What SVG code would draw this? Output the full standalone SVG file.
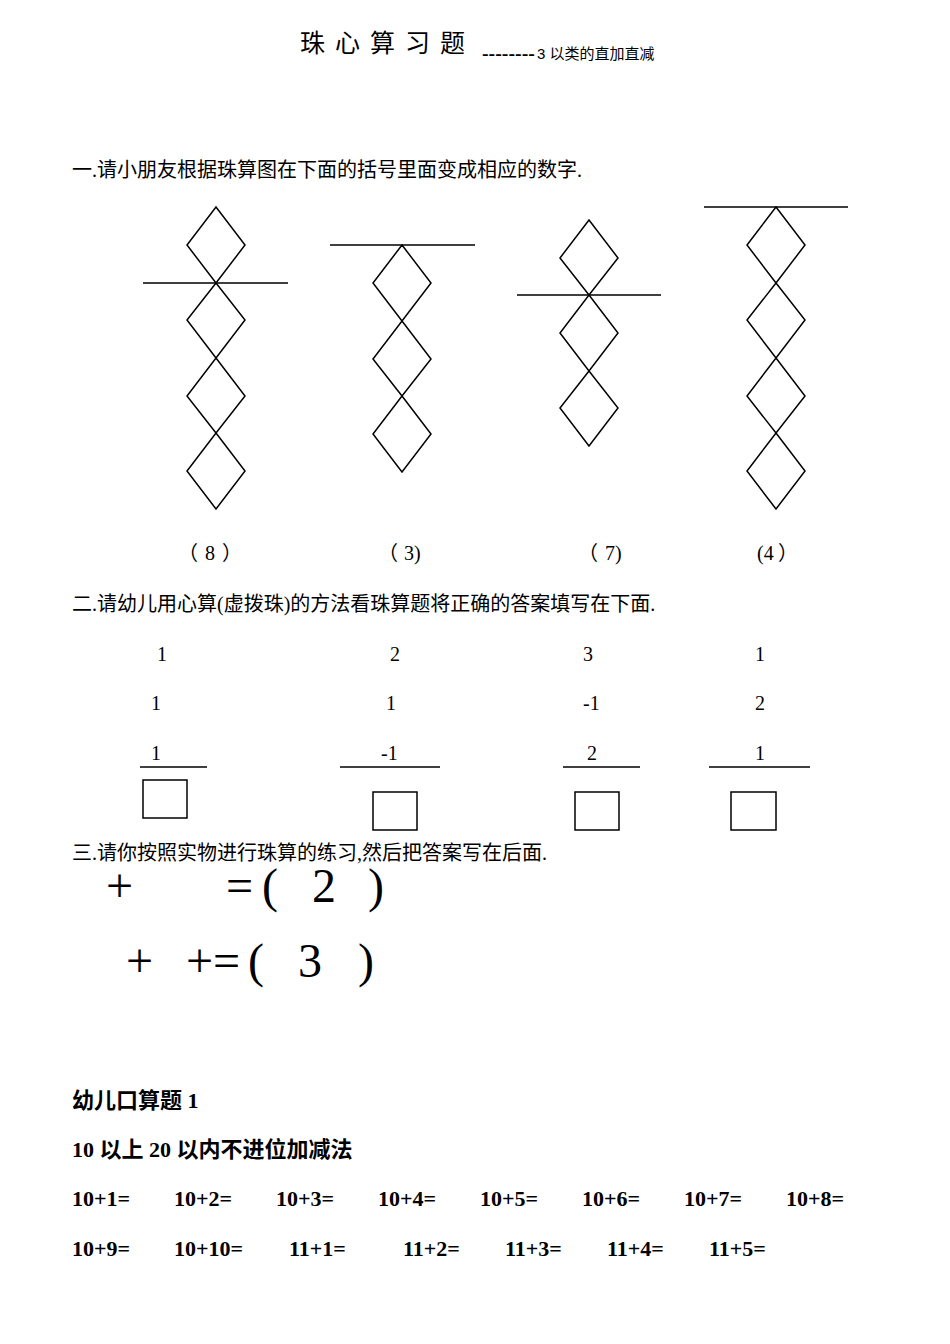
<svg xmlns="http://www.w3.org/2000/svg" width="950" height="1344" viewBox="0 0 950 1344">
<style>
.t{font-family:"Liberation Serif","Noto Sans CJK SC",serif;font-size:20px;fill:#000}
.b{font-family:"Liberation Serif","Noto Sans CJK SC",serif;font-size:22px;fill:#000;font-weight:bold}
.s{font-family:"Liberation Sans","Noto Sans CJK SC",sans-serif;fill:#000}
.big{font-family:"Liberation Serif","Noto Sans CJK SC",serif;font-size:48px;fill:#000}
.d{fill:none;stroke:#000;stroke-width:1.5}
.l{stroke:#000;stroke-width:1.5}
</style>
<rect width="950" height="1344" fill="#fff"/>
<g id="title">
<text x="300" y="52" class="s" font-size="25" letter-spacing="10">珠心算习题</text>
<text x="482" y="59" class="s" font-size="15" font-weight="bold" textLength="53" lengthAdjust="spacingAndGlyphs">--------</text>
<text x="537" y="59" class="s" font-size="15">3 以类的直加直减</text>
</g>
<text x="72" y="177" class="t">一.请小朋友根据珠算图在下面的括号里面变成相应的数字.</text>
<g id="abacus1">
<line x1="143" y1="283" x2="288" y2="283" class="l" stroke-width="2"/>
<path class="d" d="M216 207 L245 245 L216 283 L187 245 Z M216 283 L245 320 L216 358 L187 320 Z M216 358 L245 396 L216 433 L187 396 Z M216 433 L245 471 L216 509 L187 471 Z"/>
</g>
<g id="abacus2">
<line x1="330" y1="245" x2="475" y2="245" class="l"/>
<path class="d" d="M402 245 L431 283 L402 321 L373 283 Z M402 321 L431 359 L402 396 L373 359 Z M402 396 L431 434 L402 472 L373 434 Z"/>
</g>
<g id="abacus3">
<line x1="517" y1="295" x2="661" y2="295" class="l"/>
<path class="d" d="M589 220 L618 258 L589 295 L560 258 Z M589 295 L618 333 L589 371 L560 333 Z M589 371 L618 408 L589 446 L560 408 Z"/>
</g>
<g id="abacus4">
<line x1="704" y1="207" x2="848" y2="207" class="l"/>
<path class="d" d="M776 207 L805 245 L776 283 L747 245 Z M776 283 L805 320 L776 358 L747 320 Z M776 358 L805 396 L776 433 L747 396 Z M776 433 L805 471 L776 509 L747 471 Z"/>
</g>
<g id="answers1">
<text x="178" y="560" class="t">（</text><text x="205" y="560" class="t">8</text><text x="222" y="560" class="t">）</text>
<text x="378" y="560" class="t">（</text><text x="404" y="560" class="t">3)</text>
<text x="578" y="560" class="t">（</text><text x="605" y="560" class="t">7)</text>
<text x="757" y="560" class="t">(4</text><text x="778" y="560" class="t">）</text>
</g>
<text x="72" y="611" class="t">二.请幼儿用心算(虚拨珠)的方法看珠算题将正确的答案填写在下面.</text>
<g id="q1"><text x="157" y="661" class="t">1</text><text x="151" y="710" class="t">1</text><text x="151" y="760" class="t">1</text>
<line x1="140" y1="767" x2="207" y2="767" class="l"/><rect x="143" y="780" width="44" height="38" class="d"/></g>
<g id="q2"><text x="390" y="661" class="t">2</text><text x="386" y="710" class="t">1</text><text x="381" y="760" class="t">-1</text>
<line x1="340" y1="767" x2="440" y2="767" class="l"/><rect x="373" y="792" width="44" height="38" class="d"/></g>
<g id="q3"><text x="583" y="661" class="t">3</text><text x="583" y="710" class="t">-1</text><text x="587" y="760" class="t">2</text>
<line x1="563" y1="767" x2="640" y2="767" class="l"/><rect x="575" y="792" width="44" height="38" class="d"/></g>
<g id="q4"><text x="755" y="661" class="t">1</text><text x="755" y="710" class="t">2</text><text x="755" y="760" class="t">1</text>
<line x1="709" y1="767" x2="810" y2="767" class="l"/><rect x="731" y="792" width="45" height="38" class="d"/></g>
<text x="72" y="860" class="t">三.请你按照实物进行珠算的练习,然后把答案写在后面.</text>
<g id="eq">
<text x="106" y="902" class="big">+</text>
<text x="226" y="902" class="big">=</text>
<text x="262" y="902" class="big">(</text>
<text x="312" y="902" class="big">2</text>
<text x="368" y="902" class="big">)</text>
<text x="126" y="977" class="big">+</text>
<text x="186" y="977" class="big">+</text>
<text x="213" y="977" class="big">=</text>
<text x="248" y="977" class="big">(</text>
<text x="298" y="977" class="big">3</text>
<text x="358" y="977" class="big">)</text>
</g>
<g id="drill">
<text x="72" y="1108" class="b">幼儿口算题 1</text>
<text x="72" y="1157" class="b">10 以上 20 以内不进位加减法</text>
<text x="72" y="1206" class="b">10+1=</text><text x="174" y="1206" class="b">10+2=</text><text x="276" y="1206" class="b">10+3=</text><text x="378" y="1206" class="b">10+4=</text><text x="480" y="1206" class="b">10+5=</text><text x="582" y="1206" class="b">10+6=</text><text x="684" y="1206" class="b">10+7=</text><text x="786" y="1206" class="b">10+8=</text>
<text x="72" y="1256" class="b">10+9=</text><text x="174" y="1256" class="b">10+10=</text><text x="289" y="1256" class="b">11+1=</text><text x="403" y="1256" class="b">11+2=</text><text x="505" y="1256" class="b">11+3=</text><text x="607" y="1256" class="b">11+4=</text><text x="709" y="1256" class="b">11+5=</text>
</g>
</svg>
